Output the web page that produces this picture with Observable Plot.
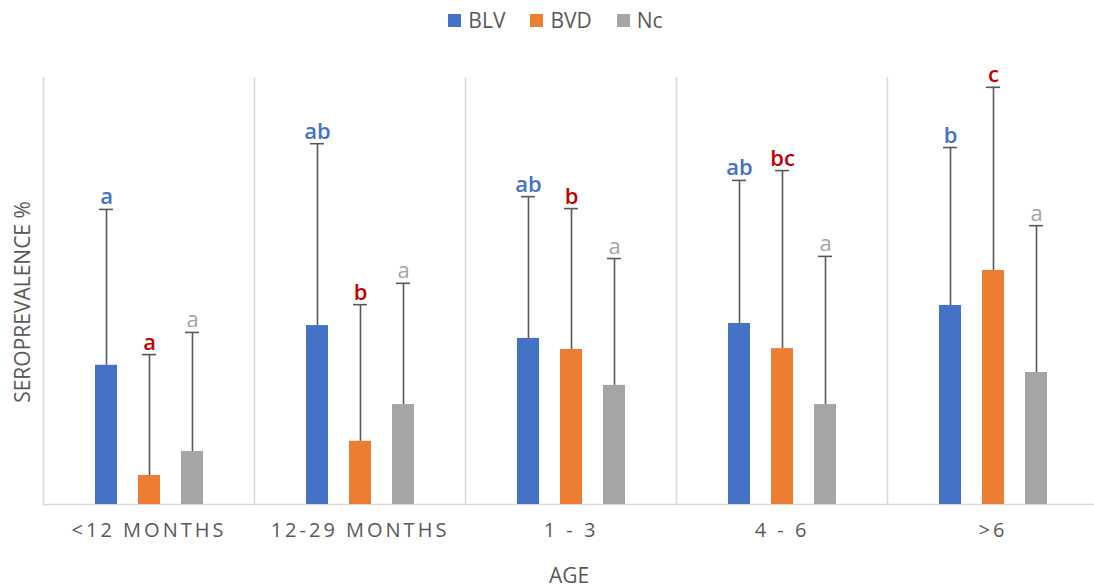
<!DOCTYPE html>
<html>
<head>
<meta charset="utf-8">
<script src="https://cdn.jsdelivr.net/npm/d3@7"></script>
<script src="https://cdn.jsdelivr.net/npm/@observablehq/plot@0.6"></script>
<style>
  body { margin: 0; background: #fff; font-family: "Open Sans", sans-serif; }
  #wrap { position: relative; width: 1094px; height: 588px; overflow: hidden; }
  #legend { height: 40px; display: flex; justify-content: center; align-items: center; gap: 25px; font-size: 21px; color: #595959; padding-left: 17px; box-sizing: border-box; }
  #legend span.item { display: flex; align-items: center; gap: 7px; }
  #legend span.sw { width: 13px; height: 13px; display: inline-block; }
  #ylabel { position: absolute; left: 22px; top: 302px; transform: translate(-50%, -50%) rotate(-90deg); font-size: 21px; color: #595959; white-space: nowrap; }
  #xlabel { position: absolute; left: 569px; top: 575px; transform: translate(-50%, -50%); font-size: 21px; color: #595959; }
  svg [aria-label="fx-axis tick label"] text { letter-spacing: 3px; }
</style>
</head>
<body>
<div id="wrap">
  <div id="legend"></div>
  <div id="chart"></div>
  <div id="ylabel">SEROPREVALENCE %</div>
  <div id="xlabel">AGE</div>
</div>
<script>
const groups = ["<12 MONTHS", "12-29 MONTHS", "1 - 3", "4 - 6", ">6"];
const series = ["BLV", "BVD", "Nc"];
const seriesColors = ["#4472c4", "#ed7d31", "#a5a5a5"];
const letterColors = ["#4472c4", "#c00000", "#a5a5a5"];
const letterWeights = [600, 600, 400];

const blvValues = [32.6, 41.9, 38.9, 42.4, 46.6];
const bvdValues = [6.8, 14.8, 36.3, 36.5, 54.8];
const ncValues  = [12.4, 23.4, 27.9, 23.4, 30.9];

const blvUpper = [69.1, 84.5, 72.1, 75.9, 83.6];
const bvdUpper = [35.1, 46.8, 69.3, 78.2, 97.7];
const ncUpper  = [40.3, 51.8, 57.6, 58.1, 65.3];

const blvLetters = ["a", "ab", "ab", "ab", "b"];
const bvdLetters = ["a", "b", "b", "bc", "c"];
const ncLetters  = ["a", "a", "a", "a", "a"];

const valueSets = [blvValues, bvdValues, ncValues];
const upperSets = [blvUpper, bvdUpper, ncUpper];
const letterSets = [blvLetters, bvdLetters, ncLetters];

const data = [];
groups.forEach((g, i) => {
  series.forEach((s, j) => {
    data.push({group: g, series: s, value: valueSets[j][i], upper: upperSets[j][i], letter: letterSets[j][i], lcolor: letterColors[j], weight: letterWeights[j]});
  });
});

// legend
const legend = document.getElementById("legend");
series.forEach((s, j) => {
  const item = document.createElement("span");
  item.className = "item";
  item.innerHTML = `<span class="sw" style="background:${seriesColors[j]}"></span>${s}`;
  legend.appendChild(item);
});

const textMark = (w) => Plot.text(data.filter(d => d.weight === w), {fx: "group", x: "series", y: "upper", text: "letter", fill: "lcolor", fontSize: 22, fontWeight: w, lineAnchor: "bottom", dy: -5});

const chart = Plot.plot({
  width: 1094,
  height: 548,
  marginTop: 37,
  marginBottom: 84,
  marginLeft: 42,
  marginRight: -5,
  style: {fontFamily: "Open Sans, sans-serif", background: "transparent", overflow: "visible"},
  fx: {domain: groups, padding: 0, label: null},
  x: {domain: series, paddingInner: 0.49, paddingOuter: 1.17, axis: null},
  y: {domain: [0, 100], axis: null},
  color: {domain: series, range: seriesColors},
  marks: [
    Plot.frame({anchor: "left", stroke: "#d9d9d9", strokeWidth: 1.5}),
    Plot.ruleY([0], {stroke: "#d9d9d9", strokeWidth: 1.5}),
    Plot.barY(data, {fx: "group", x: "series", y: "value", fill: "series"}),
    Plot.ruleX(data, {fx: "group", x: "series", y1: "value", y2: "upper", stroke: "#595959", strokeWidth: 1.6}),
    Plot.tickY(data, {fx: "group", x: "series", y: "upper", stroke: "#595959", strokeWidth: 1.6, inset: 4}),
    textMark(600),
    textMark(400),
    Plot.axisFx({anchor: "bottom", tickSize: 0, tickPadding: 18, fontSize: 20, fill: "#595959", label: null})
  ]
});
document.getElementById("chart").appendChild(chart);
</script>
</body>
</html>
